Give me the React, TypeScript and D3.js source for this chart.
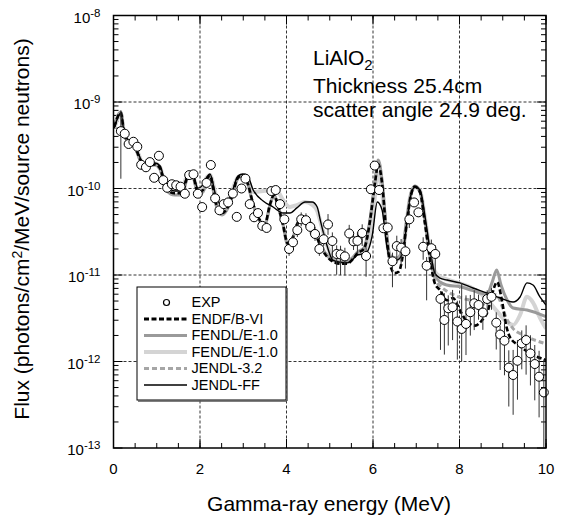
import React from 'react';
import * as d3 from 'd3';

// Experimental data (MeV, photons/cm2/MeV/source neutron)
const expEnergy = [0.17,0.26,0.35,0.46,0.55,0.64,0.75,0.84,0.94,1.05,1.15,1.24,1.35,1.45,1.55,1.65,1.75,1.85,1.95,2.05,2.15,2.25,2.35,2.45,2.55,2.65,2.76,2.85,2.96,3.05,3.15,3.25,3.34,3.44,3.54,3.65,3.75,3.85,3.95,4.06,4.15,4.25,4.34,4.45,4.55,4.66,4.76,4.86,4.96,5.06,5.16,5.25,5.35,5.45,5.55,5.64,5.75,5.84,5.95,6.04,6.14,6.24,6.34,6.45,6.55,6.65,6.75,6.84,6.95,7.05,7.16,7.24,7.35,7.44,7.56,7.65,7.74,7.84,7.95,8.05,8.15,8.25,8.34,8.44,8.54,8.64,8.74,8.85,8.94,9.04,9.14,9.24,9.34,9.44,9.54,9.64,9.74,9.84,9.95];
const expFlux = [4.6e-10,4.3e-10,3.27e-10,3.47e-10,3.04e-10,1.88e-10,1.76e-10,2.02e-10,1.33e-10,2.39e-10,1.25e-10,1.02e-10,1.12e-10,1.09e-10,1.05e-10,8.7e-11,1.43e-10,1.46e-10,8.7e-11,6.1e-11,1.16e-10,1.87e-10,7.7e-11,5.6e-11,6.6e-11,6.9e-11,8.75e-11,4.7e-11,1.0e-10,1.3e-10,6.6e-11,4.65e-11,5.2e-11,3.7e-11,3.5e-11,9.35e-11,9.6e-11,6.6e-11,4.4e-11,2.0e-11,2.39e-11,3.3e-11,4.4e-11,4.3e-11,3.6e-11,2.98e-11,2.0e-11,2.59e-11,3.84e-11,2.47e-11,1.75e-11,1.73e-11,1.64e-11,3.02e-11,2.45e-11,2.48e-11,3.06e-11,1.66e-11,9.8e-11,1.84e-10,9.6e-11,3.47e-11,3.54e-11,1.44e-11,2.16e-11,2.07e-11,1.88e-11,4.4e-11,6.9e-11,5.3e-11,2.12e-11,1.28e-11,2.04e-11,1.75e-11,5.3e-12,3.02e-12,4.12e-12,4.24e-12,2.9e-12,2.38e-12,2.72e-12,3.71e-12,4.71e-12,4.5e-12,3.68e-12,5.28e-12,5.6e-12,2.81e-12,2.05e-12,1.74e-12,8.5e-13,6.98e-13,1.02e-12,1.62e-12,1.77e-12,1.24e-12,9.35e-13,6.67e-13,4.39e-13];
// error bar extents, in decades above / below each point
const expErrUp = [0.24,0,0,0,0,0,0,0,0,0,0,0,0,0,0,0,0,0,0,0,0,0,0,0,0,0,0,0,0,0,0,0,0,0,0,0,0,0,0,0.08,0.08,0.08,0.08,0.08,0.08,0.08,0.08,0.08,0.12,0.1,0.1,0.1,0.1,0.1,0.1,0.1,0.1,0.1,0.05,0.05,0.05,0.05,0.05,0.1,0.12,0.1,0.1,0.1,0.05,0.05,0.11,0.1,0.1,0.1,0.09,0.31,0.15,0.2,0.24,0.53,0.33,0.2,0.15,0.12,0.12,0.1,0.1,0.12,0.1,0.23,0.2,0.29,0.24,0.15,0.17,0.21,0.22,0.3,0.38];
const expErrDown = [0.55,0,0,0,0,0,0,0,0,0,0,0,0,0,0,0,0,0,0,0,0,0,0,0,0,0,0,0,0,0,0,0,0,0,0,0,0,0,0,0.08,0.08,0.08,0.08,0.08,0.08,0.08,0.08,0.08,0.12,0.2,0.24,0.24,0.22,0.1,0.1,0.15,0.15,0.24,0.05,0.05,0.05,0.05,0.05,0.3,0.2,0.2,0.2,0.1,0.05,0.05,0.15,0.4,0.2,0.25,0.59,0.4,0.43,0.38,0.44,0.38,0.36,0.27,0.31,0.17,0.2,0.15,0.15,0.31,0.41,0.4,0.45,0.46,0.45,0.3,0.4,0.37,0.42,0.47,0.64];

const endfB6: [number, number][] = [[0.02,5.2e-10],[0.17,7.5e-10],[0.24,4.5e-10],[0.34,3.5e-10],[0.45,3.4e-10],[0.54,2.7e-10],[0.64,2.05e-10],[0.75,1.85e-10],[0.96,1.9e-10],[1.08,1.7e-10],[1.21,1.0e-10],[1.42,8.8e-11],[1.58,8.8e-11],[1.72,1.36e-10],[1.84,1.36e-10],[1.95,9.1e-11],[2.07,9.6e-11],[2.16,1.3e-10],[2.23,1.4e-10],[2.37,6.8e-11],[2.51,5.2e-11],[2.62,5.8e-11],[2.72,7.6e-11],[2.88,1.34e-10],[2.99,1.42e-10],[3.09,1.2e-10],[3.23,6.6e-11],[3.34,4.7e-11],[3.5,3.9e-11],[3.62,6.6e-11],[3.71,8.4e-11],[3.8,6.4e-11],[3.92,3.8e-11],[4.03,2.3e-11],[4.13,2.6e-11],[4.24,3.8e-11],[4.4,4.6e-11],[4.54,4.0e-11],[4.68,2.9e-11],[4.82,2.0e-11],[5.01,1.5e-11],[5.24,1.35e-11],[5.4,1.35e-11],[5.52,1.5e-11],[5.65,1.8e-11],[5.79,2.0e-11],[5.93,4.2e-11],[6.05,1.2e-10],[6.12,1.9e-10],[6.21,1.15e-10],[6.32,2.6e-11],[6.42,1.2e-11],[6.5,1.05e-11],[6.6,1.1e-11],[6.69,1.7e-11],[6.78,4.0e-11],[6.88,8.5e-11],[6.97,1.05e-10],[7.09,9.0e-11],[7.2,4.0e-11],[7.32,1.5e-11],[7.43,8.0e-12],[7.55,6.7e-12],[7.71,5.1e-12],[7.85,5.4e-12],[8.01,3.9e-12],[8.17,2.9e-12],[8.36,2.6e-12],[8.52,3.0e-12],[8.66,3.9e-12],[8.75,5.9e-12],[8.87,8.3e-12],[8.98,5.1e-12],[9.08,2.6e-12],[9.17,1.9e-12],[9.4,1.5e-12],[9.62,1.25e-12],[10.0,1.04e-12]];

const fendlA: [number, number][] = [[0.02,5.42e-10],[0.17,7.66e-10],[0.24,4.5e-10],[0.34,3.45e-10],[0.45,3.36e-10],[0.54,2.64e-10],[0.64,2.02e-10],[0.75,1.82e-10],[0.96,1.87e-10],[1.08,1.64e-10],[1.21,9.6e-11],[1.42,8.4e-11],[1.58,8.4e-11],[1.72,1.32e-10],[1.84,1.32e-10],[1.95,8.87e-11],[2.07,9.1e-11],[2.16,1.25e-10],[2.23,1.36e-10],[2.37,6.44e-11],[2.51,4.94e-11],[2.62,5.64e-11],[2.72,7.36e-11],[2.88,1.32e-10],[2.99,1.4e-10],[3.09,1.19e-10],[3.23,6.44e-11],[3.34,4.56e-11],[3.5,3.79e-11],[3.62,6.44e-11],[3.71,8.4e-11],[3.8,6.44e-11],[3.92,3.79e-11],[4.03,2.22e-11],[4.13,2.54e-11],[4.24,3.79e-11],[4.4,4.69e-11],[4.54,4.1e-11],[4.68,2.9e-11],[4.82,2.05e-11],[5.01,1.57e-11],[5.24,1.41e-11],[5.4,1.41e-11],[5.52,1.57e-11],[5.65,1.85e-11],[5.79,2.05e-11],[5.93,4.33e-11],[6.05,1.25e-10],[6.12,2.13e-10],[6.21,1.25e-10],[6.32,2.9e-11],[6.39,1.7e-11],[6.55,1.57e-11],[6.69,2.05e-11],[6.78,4.33e-11],[6.88,8.87e-11],[6.97,1.07e-10],[7.09,9.1e-11],[7.2,4.33e-11],[7.32,1.7e-11],[7.43,1.0e-11],[7.55,8.3e-12],[7.71,7.66e-12],[8.01,7.3e-12],[8.31,6.6e-12],[8.64,6.0e-12],[8.75,8.1e-12],[8.86,1.14e-11],[8.96,7.66e-12],[9.1,5.14e-12],[9.24,4.15e-12],[9.56,3.94e-12],[10.0,3.3e-12]];

const fendlB: [number, number][] = [[0.02,5.0e-10],[0.17,7.2e-10],[0.24,4.6e-10],[0.34,3.6e-10],[0.45,3.4e-10],[0.54,2.8e-10],[0.64,2.1e-10],[0.75,1.85e-10],[0.96,1.95e-10],[1.08,1.75e-10],[1.21,1.05e-10],[1.42,9.6e-11],[1.58,1.0e-10],[1.72,1.43e-10],[1.84,1.36e-10],[1.95,9.6e-11],[2.07,1.07e-10],[2.16,1.36e-10],[2.23,1.43e-10],[2.37,8.4e-11],[2.51,6.44e-11],[2.62,7.0e-11],[2.72,8.8e-11],[2.88,1.36e-10],[2.99,1.4e-10],[3.09,1.32e-10],[3.23,9.1e-11],[3.46,9.35e-11],[3.62,9.6e-11],[3.71,1.01e-10],[3.8,9.35e-11],[3.92,7.36e-11],[4.08,6.11e-11],[4.24,6.44e-11],[4.43,6.98e-11],[4.59,6.5e-11],[4.71,5.5e-11],[4.78,4.2e-11],[4.94,2.2e-11],[5.07,1.6e-11],[5.24,1.5e-11],[5.4,1.45e-11],[5.52,1.55e-11],[5.63,1.75e-11],[5.75,1.85e-11],[5.86,2.1e-11],[5.98,4.0e-11],[6.12,1.5e-10],[6.21,9.0e-11],[6.32,2.5e-11],[6.39,1.6e-11],[6.55,1.5e-11],[6.69,1.9e-11],[6.78,4.2e-11],[6.86,8.0e-11],[6.97,1.04e-10],[7.09,9.4e-11],[7.2,4.6e-11],[7.32,1.9e-11],[7.43,1.1e-11],[7.55,9.6e-12],[7.71,8.9e-12],[8.01,8.0e-12],[8.31,7.0e-12],[8.47,6.2e-12],[8.64,5.2e-12],[8.87,3.8e-12],[9.08,2.9e-12],[9.24,2.64e-12],[9.4,3.45e-12],[9.56,5.6e-12],[9.7,4.8e-12],[9.86,3.2e-12],[10.0,2.4e-12]];

const jendl32: [number, number][] = [[0.02,5.3e-10],[0.17,7.6e-10],[0.24,4.5e-10],[0.34,3.5e-10],[0.45,3.35e-10],[0.54,2.65e-10],[0.64,2.0e-10],[0.75,1.82e-10],[0.96,1.88e-10],[1.08,1.66e-10],[1.21,9.8e-11],[1.42,8.5e-11],[1.58,8.6e-11],[1.72,1.34e-10],[1.84,1.33e-10],[1.95,9.0e-11],[2.07,9.3e-11],[2.16,1.27e-10],[2.23,1.38e-10],[2.37,6.6e-11],[2.51,5.0e-11],[2.62,5.7e-11],[2.72,7.5e-11],[2.88,1.33e-10],[2.99,1.41e-10],[3.09,1.2e-10],[3.23,6.5e-11],[3.34,4.6e-11],[3.5,3.85e-11],[3.62,6.5e-11],[3.71,8.3e-11],[3.8,6.4e-11],[3.92,3.8e-11],[4.03,2.25e-11],[4.13,2.55e-11],[4.24,3.8e-11],[4.4,4.65e-11],[4.54,4.05e-11],[4.68,2.9e-11],[4.82,2.0e-11],[5.01,1.55e-11],[5.24,1.4e-11],[5.4,1.4e-11],[5.52,1.55e-11],[5.65,1.85e-11],[5.79,2.0e-11],[5.93,4.3e-11],[6.05,1.22e-10],[6.12,2.05e-10],[6.21,1.2e-10],[6.32,2.8e-11],[6.39,1.65e-11],[6.55,1.5e-11],[6.69,2.0e-11],[6.78,4.2e-11],[6.88,8.7e-11],[6.97,1.06e-10],[7.09,9.0e-11],[7.2,4.2e-11],[7.32,1.6e-11],[7.43,9.0e-12],[7.55,7.5e-12],[7.71,6.5e-12],[8.01,5.5e-12],[8.31,5.0e-12],[8.52,4.6e-12],[8.66,4.8e-12],[8.8,6.0e-12],[8.9,5.5e-12],[9.08,3.2e-12],[9.24,2.4e-12],[9.5,2.0e-12],[10.0,1.6e-12]];

const jendlFF: [number, number][] = [[0.02,5.0e-10],[0.17,7.46e-10],[0.24,4.62e-10],[0.34,3.64e-10],[0.45,3.36e-10],[0.54,2.79e-10],[0.64,2.13e-10],[0.75,1.87e-10],[0.84,1.92e-10],[0.96,1.97e-10],[1.08,1.82e-10],[1.21,1.1e-10],[1.42,9.35e-11],[1.58,9.35e-11],[1.72,1.43e-10],[1.84,1.4e-10],[1.95,1.01e-10],[2.07,1.1e-10],[2.16,1.36e-10],[2.23,1.47e-10],[2.37,8.2e-11],[2.51,6.28e-11],[2.62,6.8e-11],[2.72,8.4e-11],[2.88,1.4e-10],[2.99,1.47e-10],[3.09,1.43e-10],[3.23,9.6e-11],[3.46,7.16e-11],[3.69,6.11e-11],[3.92,5.21e-11],[4.08,5.21e-11],[4.24,5.96e-11],[4.43,6.98e-11],[4.59,6.98e-11],[4.71,6.11e-11],[4.78,4.33e-11],[4.94,2.16e-11],[5.07,1.49e-11],[5.24,1.41e-11],[5.4,1.38e-11],[5.52,1.49e-11],[5.63,1.7e-11],[5.75,1.75e-11],[5.86,1.85e-11],[5.98,2.82e-11],[6.1,6.98e-11],[6.21,5.64e-11],[6.32,2.16e-11],[6.39,1.57e-11],[6.55,1.49e-11],[6.69,1.79e-11],[6.78,3.99e-11],[6.86,7.76e-11],[6.97,1.04e-10],[7.09,9.6e-11],[7.2,4.81e-11],[7.32,1.95e-11],[7.43,1.05e-11],[7.55,9.2e-12],[7.71,8.75e-12],[8.01,8.1e-12],[8.31,7.08e-12],[8.64,6.19e-12],[8.94,5.42e-12],[9.24,4.88e-12],[9.4,5.57e-12],[9.56,8.1e-12],[9.7,7.66e-12],[9.86,5.57e-12],[10.0,4.5e-12]];

const xTickValues = [0, 2, 4, 6, 8, 10];
const xMinorStep = 0.5;
const yExponents = [-13, -12, -11, -10, -9, -8];
const legendLabels = ['EXP', 'ENDF/B-VI', 'FENDL/E-1.0', 'FENDL/E-1.0', 'JENDL-3.2', 'JENDL-FF'];

const FONT = "'Liberation Sans', Arial, Helvetica, sans-serif";

export default function App() {
  const W = 565, H = 518;
  const left = 113.5, right = 546, top = 15.5, bottom = 448;
  const x = d3.scaleLinear().domain([0, 10]).range([left, right]);
  const y = d3.scaleLog().domain([1e-13, 1e-8]).range([bottom, top]);
  const line = d3.line<[number, number]>().x(d => x(d[0])).y(d => y(d[1])).curve(d3.curveMonotoneX);

  const series = [
    { data: fendlB, stroke: '#d4d4d4', width: 4, dash: undefined },
    { data: fendlA, stroke: '#9a9a9a', width: 3, dash: undefined },
    { data: jendl32, stroke: '#a6a6a6', width: 3, dash: '5,3' },
    { data: endfB6, stroke: '#000', width: 2.6, dash: '5,2.5' },
    { data: jendlFF, stroke: '#000', width: 1.4, dash: undefined },
  ];
  const legendStyles = [
    null,
    { stroke: '#000', width: 3, dash: '5,2.5' },
    { stroke: '#9a9a9a', width: 3, dash: undefined },
    { stroke: '#d4d4d4', width: 4, dash: undefined },
    { stroke: '#a6a6a6', width: 3, dash: '5,3' },
    { stroke: '#000', width: 1.4, dash: undefined },
  ];

  const minorY: number[] = [];
  for (let e = -13; e < -8; e++) for (let k = 2; k <= 9; k++) minorY.push(k * Math.pow(10, e));
  const minorX = d3.range(0, 10 + 1e-9, xMinorStep);

  const lx = 137, ly = 287, lw = 149, lh = 113;

  return (
    <svg width={W} height={H} style={{ position: 'absolute', left: 0, top: 0, background: '#fff' }} fontFamily={FONT}>
      <defs>
        <clipPath id="plotclip"><rect x={left} y={top} width={right - left} height={bottom - top} /></clipPath>
      </defs>
      <rect x={0} y={0} width={W} height={H} fill="#fff" />
      {/* grid */}
      <g stroke="#000" strokeWidth={0.8} strokeDasharray="3,2">
        {xTickValues.slice(1, -1).map(v => <line key={'gx' + v} x1={x(v)} x2={x(v)} y1={top} y2={bottom} />)}
        {yExponents.slice(1, -1).map(e => <line key={'gy' + e} x1={left} x2={right} y1={y(Math.pow(10, e))} y2={y(Math.pow(10, e))} />)}
      </g>
      {/* ticks */}
      <g stroke="#000" strokeWidth={1}>
        {minorY.map((v, i) => (
          <g key={'my' + i}>
            <line x1={left} x2={left + 5} y1={y(v)} y2={y(v)} />
            <line x1={right} x2={right - 5} y1={y(v)} y2={y(v)} />
          </g>
        ))}
        {yExponents.map(e => (
          <g key={'My' + e}>
            <line x1={left} x2={left + 9} y1={y(Math.pow(10, e))} y2={y(Math.pow(10, e))} />
            <line x1={right} x2={right - 9} y1={y(Math.pow(10, e))} y2={y(Math.pow(10, e))} />
          </g>
        ))}
        {minorX.map((v, i) => (
          <g key={'mx' + i}>
            <line x1={x(v)} x2={x(v)} y1={bottom} y2={bottom - 5} />
            <line x1={x(v)} x2={x(v)} y1={top} y2={top + 5} />
          </g>
        ))}
        {xTickValues.map(v => (
          <g key={'Mx' + v}>
            <line x1={x(v)} x2={x(v)} y1={bottom} y2={bottom - 9} />
            <line x1={x(v)} x2={x(v)} y1={top} y2={top + 9} />
          </g>
        ))}
      </g>
      {/* model curves */}
      <g clipPath="url(#plotclip)" fill="none">
        {series.map((s, i) => (
          <path key={'s' + i} d={line(s.data) || ''} stroke={s.stroke} strokeWidth={s.width} strokeDasharray={s.dash} strokeLinejoin="round" />
        ))}
      </g>
      {/* error bars */}
      <g clipPath="url(#plotclip)" stroke="#333" strokeWidth={1}>
        {expEnergy.map((e, i) => (expErrUp[i] > 0 || expErrDown[i] > 0) ? (
          <line key={'eb' + i} x1={x(e)} x2={x(e)}
            y1={y(expFlux[i] * Math.pow(10, expErrUp[i]))}
            y2={y(expFlux[i] / Math.pow(10, expErrDown[i]))} />
        ) : null)}
      </g>
      {/* points */}
      <g fill="#fff" stroke="#000" strokeWidth={1}>
        {expEnergy.map((e, i) => <circle key={'p' + i} cx={x(e)} cy={y(expFlux[i])} r={4.5} />)}
      </g>
      {/* frame */}
      <rect x={left} y={top} width={right - left} height={bottom - top} fill="none" stroke="#000" strokeWidth={1.5} />
      {/* y tick labels */}
      {yExponents.map(e => (
        <text key={'yl' + e} x={100.5} y={y(Math.pow(10, e)) + 7} textAnchor="end" fontSize={15} fill="#000">
          <tspan>10</tspan><tspan dy={-6} fontSize={11.5}>{String(e)}</tspan>
        </text>
      ))}
      {/* x tick labels */}
      {xTickValues.map(v => (
        <text key={'xl' + v} x={x(v)} y={474} textAnchor="middle" fontSize={15} fill="#000">{v}</text>
      ))}
      {/* axis titles */}
      <text x={329} y={511} textAnchor="middle" fontSize={21} fill="#000">Gamma-ray energy (MeV)</text>
      <text transform="translate(29,229) rotate(-90)" textAnchor="middle" fontSize={21} fill="#000">
        <tspan>Flux (photons/cm</tspan><tspan dy={-7} fontSize={14}>2</tspan><tspan dy={7}>/MeV/source neutrons)</tspan>
      </text>
      {/* annotation */}
      <g fontSize={21} fill="#000">
        <text x={313} y={65}><tspan>LiAlO</tspan><tspan dy={5} fontSize={15}>2</tspan></text>
        <text x={313} y={93}>Thickness 25.4cm</text>
        <text x={313} y={117}>scatter angle 24.9 deg.</text>
      </g>
      {/* legend */}
      <g>
        <rect x={lx} y={ly} width={lw} height={lh} fill="#fff" stroke="#000" strokeWidth={1} />
        <line x1={lx + lw + 1} x2={lx + lw + 1} y1={ly + 1} y2={ly + lh + 1} stroke="#555" strokeWidth={1.5} />
        <line x1={lx + 1} x2={lx + lw + 1} y1={ly + lh + 1} y2={ly + lh + 1} stroke="#555" strokeWidth={1.5} />
        {legendLabels.map((lab, i) => {
          const by = 307 + i * 16.5;
          const st = legendStyles[i];
          return (
            <g key={'lg' + i}>
              {st ? (
                <line x1={144} x2={187} y1={by - 4.5} y2={by - 4.5} stroke={st.stroke} strokeWidth={st.width} strokeDasharray={st.dash} />
              ) : (
                <circle cx={166.5} cy={by - 4.5} r={3} fill="#fff" stroke="#000" strokeWidth={1.2} />
              )}
              <text x={191.5} y={by} fontSize={14.5} fill="#000">{lab}</text>
            </g>
          );
        })}
      </g>
    </svg>
  );
}
